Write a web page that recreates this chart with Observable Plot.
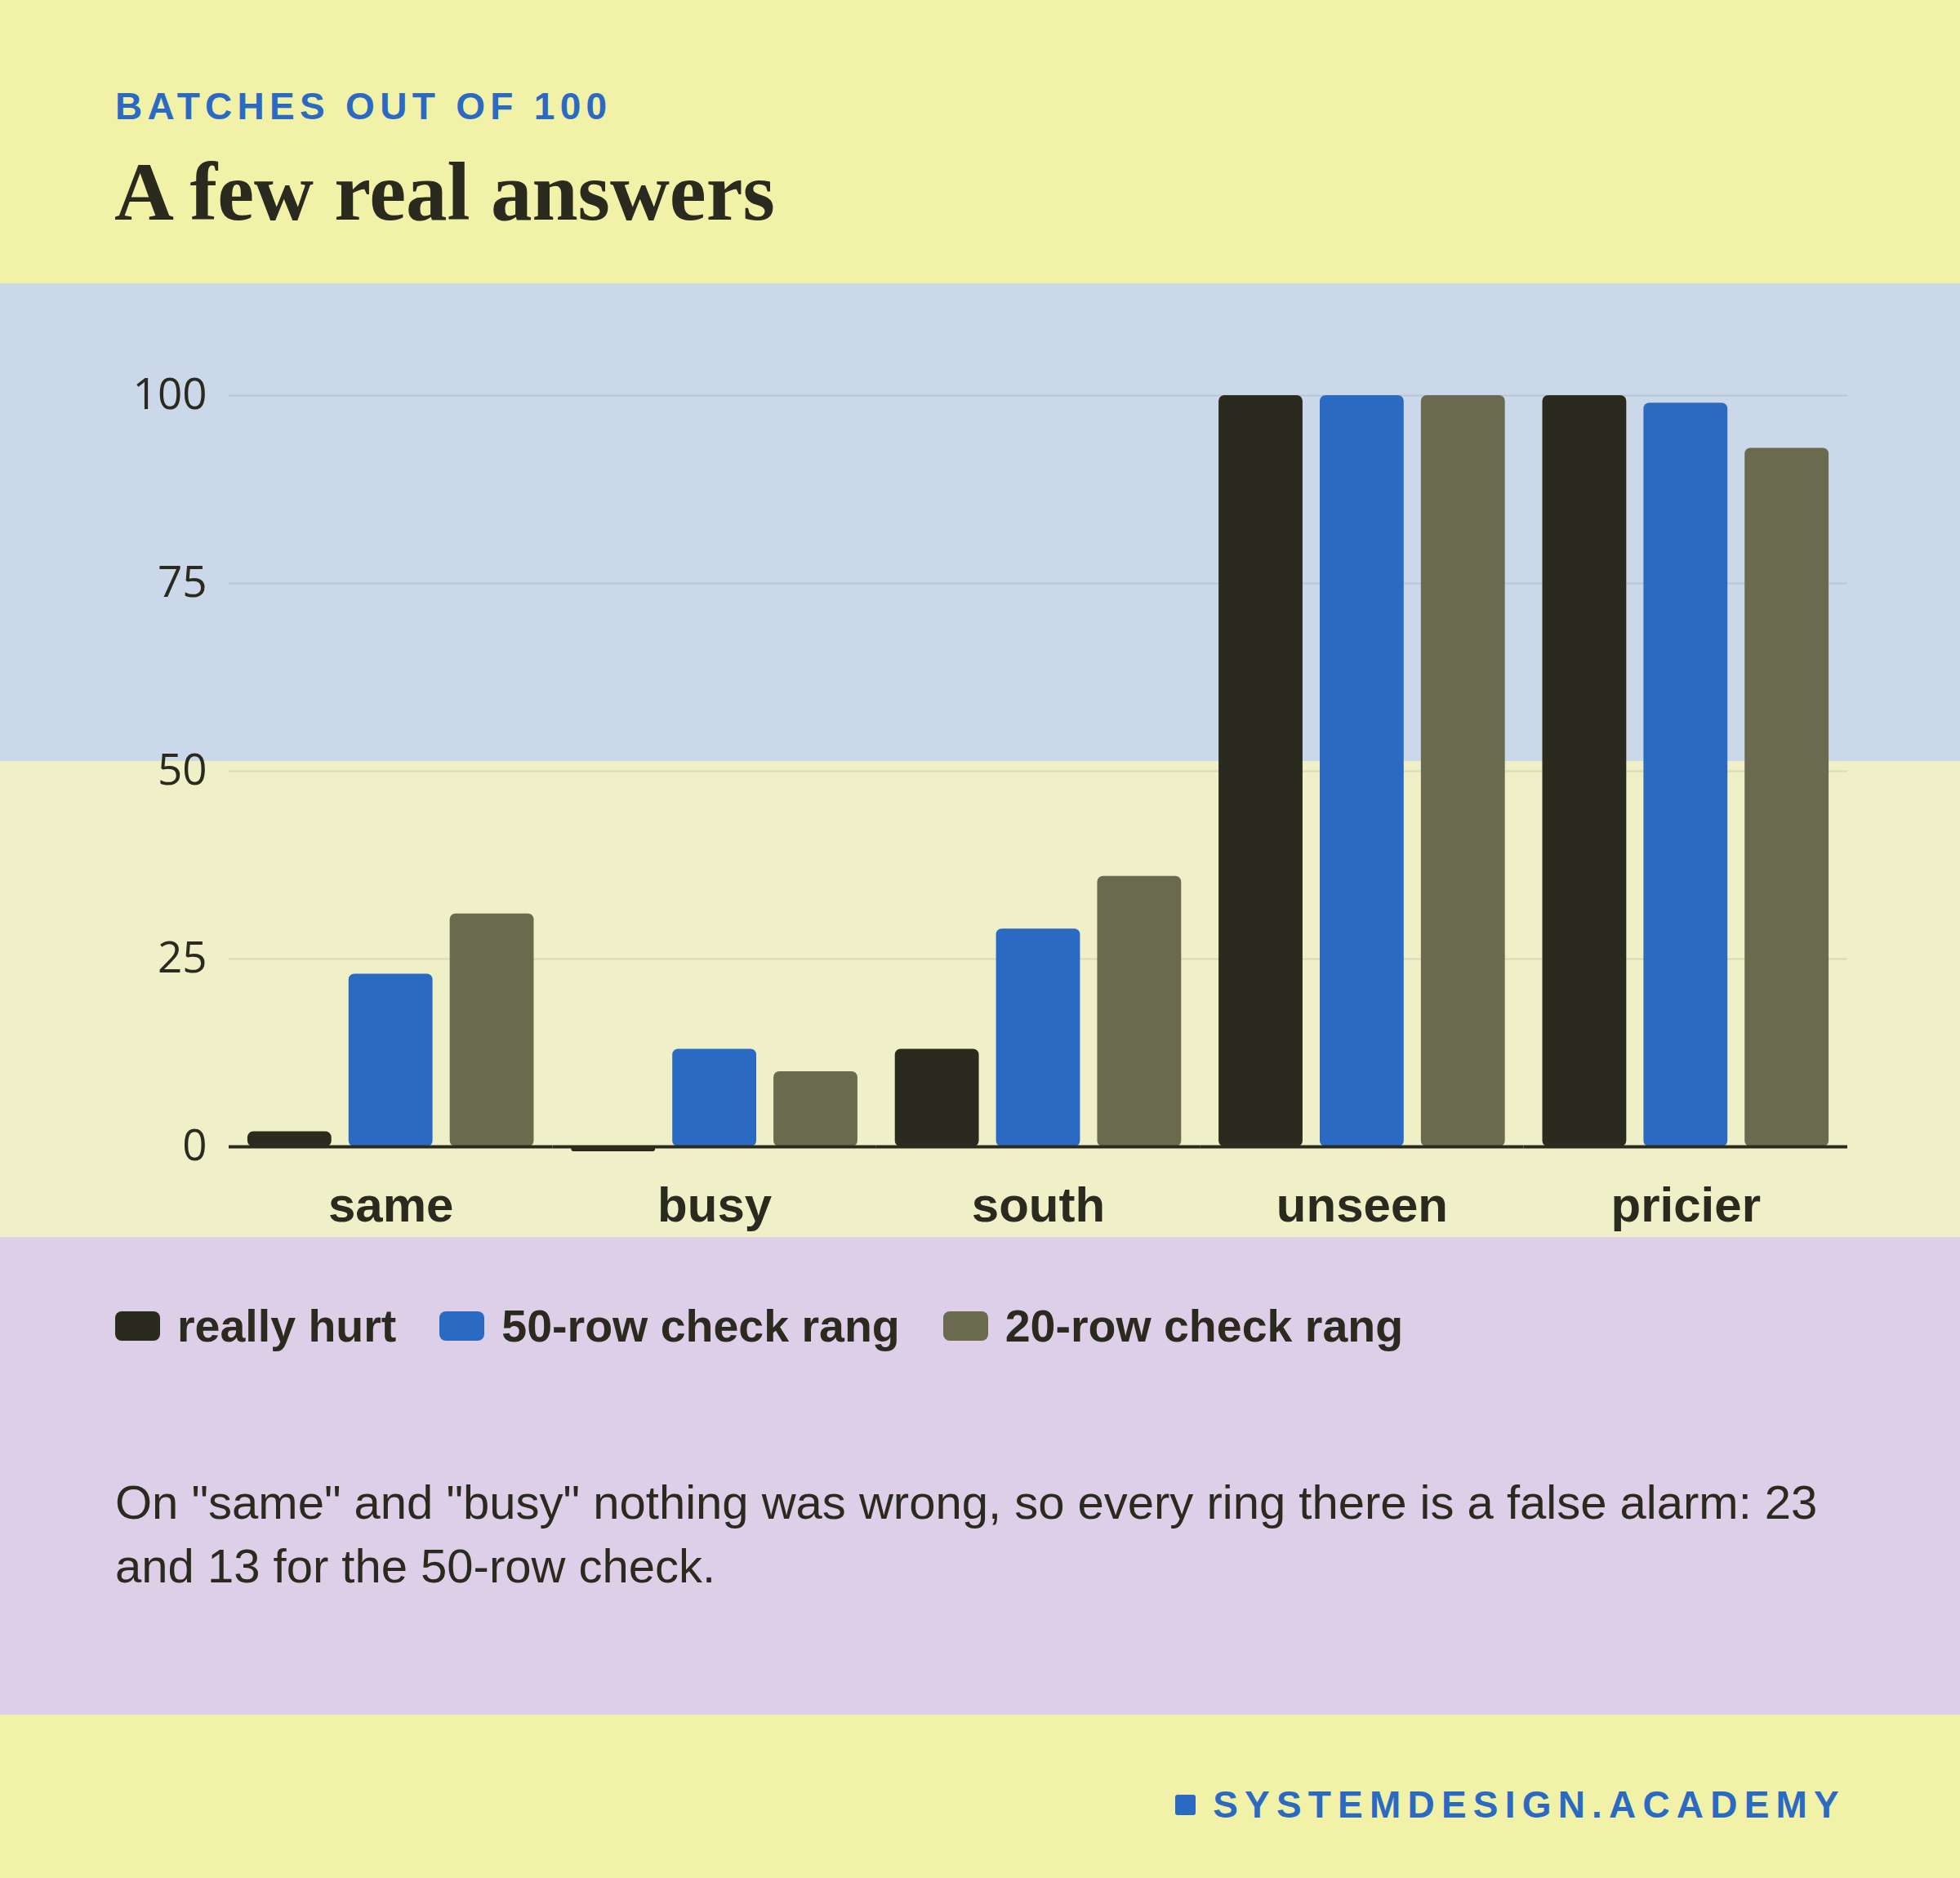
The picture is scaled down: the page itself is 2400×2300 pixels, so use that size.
<!DOCTYPE html>
<html>
<head>
<meta charset="utf-8">
<script src="https://cdn.jsdelivr.net/npm/d3@7"></script>
<script src="https://cdn.jsdelivr.net/npm/@observablehq/plot@0.6"></script>
<style>
  html, body { margin: 0; padding: 0; }
  body { width: 2400px; height: 2300px; position: relative; overflow: hidden; background: #f1f1a8; font-family: "Liberation Sans", Arial, sans-serif; color: #2a2a1f; }
  .band { position: absolute; left: 0; width: 2400px; }
  #top { top: 0; height: 347px; background: #f1f1a8; }
  #chartband { top: 347px; height: 1168px; background: linear-gradient(to bottom, #cbd8ea 0px, #cbd8ea 585px, #eff0c8 585px, #eff0c8 1168px); }
  #purple { top: 1515px; height: 585px; background: #ddcfe8; }
  #bottom { top: 2100px; height: 200px; background: #f1f1a8; }
  .abs { position: absolute; line-height: 1; white-space: nowrap; }
  #kicker { left: 141px; top: 107px; font-size: 46px; font-weight: 700; letter-spacing: 6.3px; color: #2b6ac2; }
  #title { left: 140px; top: 185px; font-family: "Liberation Serif", serif; font-size: 101px; font-weight: 700; color: #2a2a1f; }
  #chart { position: absolute; left: 0; top: 347px; }
  #legend { position: absolute; left: 141px; top: 1597px; display: flex; align-items: flex-start; line-height: 1; font-size: 55.5px; font-weight: 700; }
  .item { display: flex; align-items: flex-start; margin-right: 53px; }
  .sw { width: 55px; height: 36px; border-radius: 8px; margin-top: 9px; margin-right: 21px; }
  #caption { position: absolute; left: 141px; top: 1801px; width: 2120px; font-size: 58px; line-height: 78px; }
  #footer { right: 140px; top: 2187px; font-size: 46px; font-weight: 700; letter-spacing: 8.2px; color: #2b6ac2; display: flex; align-items: flex-start; }
  #footer .sq { width: 25px; height: 25px; border-radius: 3px; background: #2b6ac2; margin-top: 11px; margin-right: 21px; }
</style>
</head>
<body>
<div class="band" id="top"></div>
<div class="band" id="chartband"></div>
<div class="band" id="purple"></div>
<div class="band" id="bottom"></div>
<div class="abs" id="kicker"></div>
<div class="abs" id="title"></div>
<div id="chart"></div>
<div id="legend"></div>
<div id="caption"></div>
<div class="abs" id="footer"><span class="sq"></span><span id="footertext"></span></div>
<script>
const kicker = "BATCHES OUT OF 100";
const title = "A few real answers";
const caption = 'On "same" and "busy" nothing was wrong, so every ring there is a false alarm: 23 and 13 for the 50-row check.';
const footer = "SYSTEMDESIGN.ACADEMY";

const categories = ["same", "busy", "south", "unseen", "pricier"];
const series = ["really hurt", "50-row check rang", "20-row check rang"];
const reallyHurt = [2, 0, 13, 100, 100];
const check50 = [23, 13, 29, 100, 99];
const check20 = [31, 10, 36, 100, 93];
const seriesColors = ["#2a2a1f", "#2b6ac2", "#6a6a4e"];
const yTicks = [0, 25, 50, 75, 100];
const gridTicks = [25, 50, 75, 100];

document.getElementById("kicker").textContent = kicker;
document.getElementById("title").textContent = title;
document.getElementById("caption").textContent = caption;
document.getElementById("footertext").textContent = footer;

const valuesBySeries = [reallyHurt, check50, check20];
const rows = [];
categories.forEach((c, i) => {
  series.forEach((s, j) => rows.push({category: c, series: s, value: valuesBySeries[j][i]}));
});

const ink = "#2a2a1f";
const chart = Plot.plot({
  width: 2400,
  height: 1168,
  marginLeft: 280,
  marginRight: 138,
  marginTop: 137,
  marginBottom: 111,
  style: {background: "transparent", fontFamily: "Liberation Sans, Arial, sans-serif", color: ink, overflow: "visible"},
  fx: {domain: categories, padding: 0, round: false},
  x: {domain: series, paddingInner: 0.17, paddingOuter: 0.185, round: false, axis: null},
  y: {domain: [0, 100]},
  color: {domain: series, range: seriesColors},
  marks: [
    Plot.gridY(gridTicks, {stroke: ink, strokeOpacity: 0.1, strokeWidth: 2}),
    Plot.barY(rows, {fx: "category", x: "series", y: "value", fill: "series", rx: 7}),
    Plot.barY(rows.filter(d => d.value === 0), {fx: "category", x: "series", y: "value", fill: "series", insetBottom: -6, rx: 3}),
    Plot.ruleY([0], {stroke: ink, strokeWidth: 4}),
    Plot.axisY({ticks: yTicks, tickSize: 0, tickPadding: 27, fontSize: 53, fontFamily: "Open Sans, sans-serif", fill: ink, label: null}),
    Plot.axisFx({anchor: "bottom", tickSize: 0, tickPadding: 49, fontSize: 60, fontWeight: 700, fill: ink, label: null})
  ]
});
document.getElementById("chart").appendChild(chart);

const legend = document.getElementById("legend");
series.forEach((s, j) => {
  const item = document.createElement("div");
  item.className = "item";
  const sw = document.createElement("span");
  sw.className = "sw";
  sw.style.background = seriesColors[j];
  const lab = document.createElement("span");
  lab.textContent = s;
  item.appendChild(sw);
  item.appendChild(lab);
  legend.appendChild(item);
});
</script>
</body>
</html>
